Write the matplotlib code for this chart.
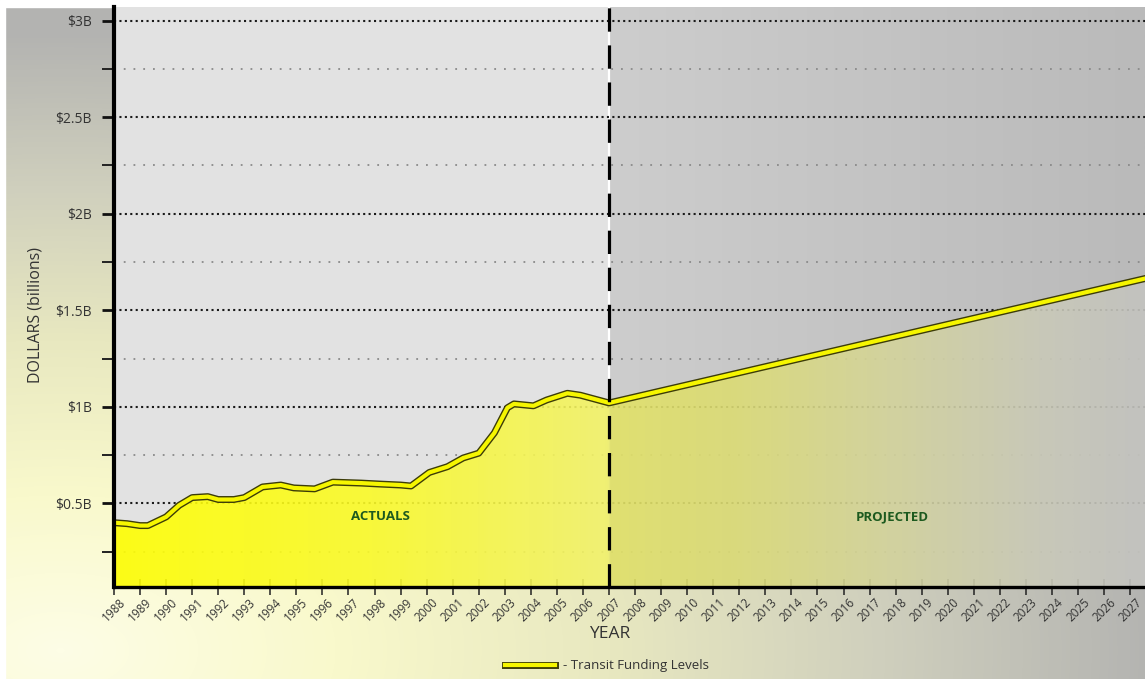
import numpy as np
import matplotlib.pyplot as plt
import matplotlib.patheffects as pe
from matplotlib.colors import LinearSegmentedColormap

plt.rcParams['font.family'] = ['Open Sans', 'DejaVu Sans']

# transit funding, billions of dollars
years_actual = [1988, 1988.5, 1989, 1989.3, 1990, 1990.5, 1991, 1991.6, 1992, 1992.6,
                1993, 1993.7, 1994.4, 1994.9, 1995.7, 1996.4, 1997.5, 1998.2, 1999.0,
                1999.4, 2000.1, 2000.8, 2001.4, 2002.0, 2002.6, 2003.1, 2003.35, 2004.1,
                2004.6, 2005.4, 2005.9, 2007]
values_actual = [0.40, 0.395, 0.385, 0.385, 0.43, 0.49, 0.53, 0.535, 0.52, 0.52,
                 0.53, 0.585, 0.595, 0.58, 0.575, 0.61, 0.605, 0.60, 0.595,
                 0.59, 0.66, 0.69, 0.735, 0.76, 0.865, 0.995, 1.015, 1.005,
                 1.035, 1.07, 1.06, 1.02]
years_projected = [2007, 2027.6]
values_projected = [1.02, 1.665]

year_ticks = list(range(1988, 2028))
dollar_ticks = [0.5, 1, 1.5, 2, 2.5, 3]
dollar_labels = ['$0.5B', '$1B', '$1.5B', '$2B', '$2.5B', '$3B']
minor_ticks = [0.25, 0.75, 1.25, 1.75, 2.25, 2.75]

W, H = 1145, 679
XMIN, XMAX = 1988, 2027.57
YMIN, YMAX = 0.067, 3.07

fig = plt.figure(figsize=(W / 100, H / 100), dpi=100)

# page background: pale yellow glow from lower left fading to grey
bgax = fig.add_axes([0, 0, 1, 1], zorder=-5)
xx, yy = np.meshgrid(np.arange(W), np.arange(H))
d = np.sqrt(((xx - 60) / 1100.0) ** 2 + ((yy - 650) / 620.0) ** 2)
bg_cmap = LinearSegmentedColormap.from_list(
    'bg', [(0, '#fdfde6'), (0.25, '#f9f9cc'), (0.5, '#e8e8c0'),
           (0.75, '#cfcfbd'), (1.0, '#b3b3b1')])
bgax.imshow(np.clip(d, 0, 1), cmap=bg_cmap, vmin=0, vmax=1, aspect='auto',
            extent=[0, W, H, 0])
bgax.axhspan(0, 7, color='white')
bgax.axvspan(0, 5, color='white')
bgax.set_xlim(0, W)
bgax.set_ylim(H, 0)
bgax.axis('off')

ax = fig.add_axes([114 / W, (H - 587) / H, 1 - 114 / W, (587 - 7) / H])
ax.patch.set_visible(False)

# plot area backgrounds
ax.axvspan(XMIN, 2007, color='#e2e2e2', zorder=0, lw=0)
proj_cmap = LinearSegmentedColormap.from_list('proj', ['#cdcdcd', '#bababa'])
ax.imshow(np.linspace(0, 1, 200).reshape(1, -1), cmap=proj_cmap, aspect='auto',
          extent=[2007, XMAX, YMIN, YMAX], zorder=0)
ax.axvline(2007, color='white', lw=1.6, zorder=1)

# grid
for v in dollar_ticks:
    ax.axhline(v, ls=(0, (1, 1.6)), lw=1.5, color='#1a1a1a', zorder=2)
for v in minor_ticks:
    ax.axhline(v, ls=(0, (1, 4.4)), lw=1.3, color='#8a8a8a', zorder=2)

# gradient fill below the funding line
x_all = years_actual + years_projected[1:]
y_all = values_actual + values_projected[1:]
poly = ax.fill_between(x_all, YMIN, y_all, facecolor='none', edgecolor='none')
fill_cmap = LinearSegmentedColormap.from_list(
    'fill', [(0, '#ffff00'), (0.25, '#fbfb28'), (0.478, '#f2f268'),
             (0.482, '#e3e366'), (0.6, '#dcdc74'), (0.75, '#d4d49a'),
             (0.9, '#cacab8'), (1.0, '#c4c4c0')])
img = ax.imshow(np.linspace(0, 1, 400).reshape(1, -1), cmap=fill_cmap, aspect='auto',
                extent=[XMIN, XMAX, YMIN, 2.0], zorder=3, alpha=0.9)
img.set_clip_path(poly.get_paths()[0], ax.transData)

line_fx = [pe.Stroke(linewidth=5.0, foreground='#3c3c08'), pe.Normal()]
ax.plot(x_all, y_all, color='#f6f600', lw=3.0, solid_joinstyle='round',
        solid_capstyle='round', zorder=5, path_effects=line_fx)

# actual / projected divider
ax.axvline(2007, color='black', lw=2.3, ls=(0, (7.3, 4.3)), zorder=6)

ax.text(1998.24, 0.43, 'ACTUALS', color='#1d5a1f', fontsize=9.5, fontweight='bold',
        ha='center', va='center', zorder=7)
ax.text(2017.87, 0.43, 'PROJECTED', color='#1d5a1f', fontsize=9.5, fontweight='bold',
        ha='center', va='center', zorder=7)

ax.set_xlim(XMIN, XMAX)
ax.set_ylim(YMIN, YMAX)

ax.set_yticks(dollar_ticks)
ax.set_yticklabels(dollar_labels)
ax.set_yticks(minor_ticks, minor=True)
ax.tick_params(axis='y', which='major', length=9, width=2, color='#111111', pad=7,
               labelsize=10, labelcolor='#333333')
ax.tick_params(axis='y', which='minor', length=9, width=1.4, color='#222222')

ax.set_xticks(year_ticks)
ax.set_xticklabels([str(y) for y in year_ticks], rotation=45, ha='center')
ax.tick_params(axis='x', direction='inout', length=11, width=1.1, color='#222222',
               labelsize=8.5, labelcolor='#333333', pad=1)

for side in ['top', 'right']:
    ax.spines[side].set_visible(False)
ax.spines['left'].set_linewidth(3)
ax.spines['bottom'].set_linewidth(2.4)
ax.spines['left'].set_zorder(8)
ax.spines['bottom'].set_zorder(8)

fig.text(35 / W, 1 - 315 / H, 'DOLLARS (billions)', rotation=90, ha='center',
         va='center', fontsize=11.5, color='#333333')
fig.text(610 / W, 1 - 634 / H, 'YEAR', ha='center', va='center', fontsize=12.5,
         color='#333333')

# legend
fig.add_artist(plt.Line2D([505 / W, 555 / W], [1 - 665 / H, 1 - 665 / H],
                          color='#f6f600', lw=3.0, path_effects=line_fx))
fig.text(563 / W, 1 - 665 / H, '- Transit Funding Levels', ha='left', va='center',
         fontsize=9.5, color='#333333')

fig.savefig('out.png', dpi=100)
